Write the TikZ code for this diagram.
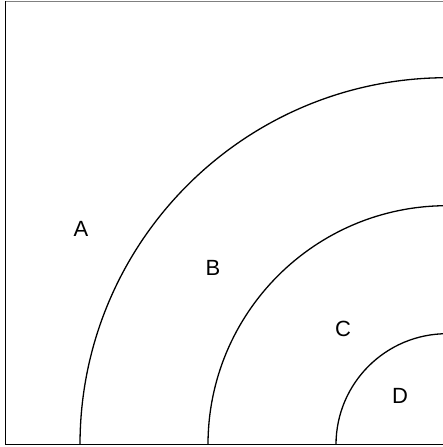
\documentclass[tikz,border=0pt]{standalone}
\usepackage{fontspec}
\setmainfont{Liberation Sans}
\begin{document}
\begin{tikzpicture}[x=1pt,y=1pt,
  arcline/.style={line width=1.3pt,black},
  lbl/.style={font=\fontsize{22}{26}\selectfont,inner sep=0pt}]
\useasboundingbox (0,0) rectangle (443,447);
\begin{scope}
\clip (0,0) rectangle (443,447);
\draw[line width=1.3pt,gray] (5.3,445.7) -- (450,445.7);
\draw[arcline] (5.3,446) -- (5.3,2.3) -- (450,2.3);
\coordinate (ctr) at (447,2.3);
\draw[arcline] ([xshift=-367pt]ctr) arc[start angle=180,end angle=90,radius=367];
\draw[arcline] ([xshift=-239pt]ctr) arc[start angle=180,end angle=90,radius=239];
\draw[arcline] ([xshift=-111pt]ctr) arc[start angle=180,end angle=90,radius=111];
\end{scope}
\node[lbl] (A) at (81,218) {A};
\node[lbl] (B) at (213,179) {B};
\node[lbl] (C) at (343,118) {C};
\node[lbl] (D) at (400,51) {D};
\end{tikzpicture}
\end{document}
